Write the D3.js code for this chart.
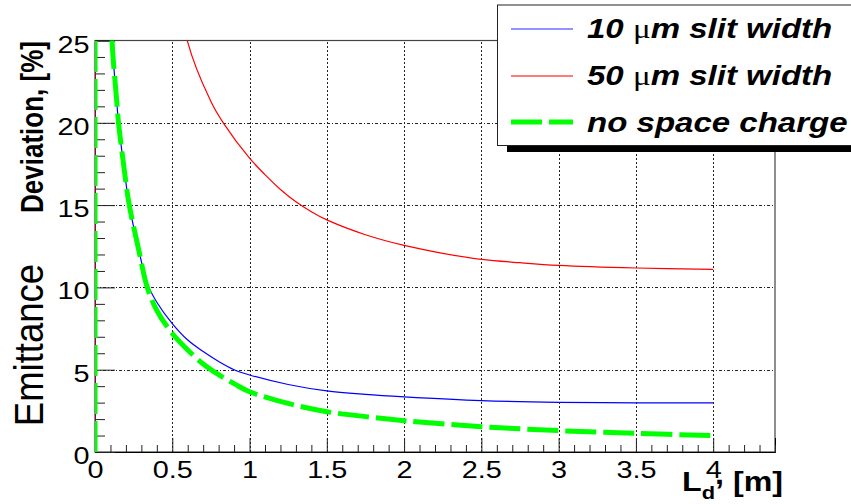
<!DOCTYPE html>
<html>
<head>
<meta charset="utf-8">
<script src="https://cdn.jsdelivr.net/npm/d3@7"></script>
<style>
  html, body { margin: 0; padding: 0; background: #fff; }
  svg { display: block; }
  text { font-family: "Liberation Sans", Arial, sans-serif; }
</style>
</head>
<body>
<svg id="chart" width="851" height="504"></svg>
<script>
// Drift length L_d [m] and emittance deviation [%]
const driftSmall = [0, 0.005, 0.05, 0.08, 0.11, 0.14, 0.15, 0.19, 0.22, 0.28, 0.34, 0.4, 0.5, 0.6, 0.7, 0.8, 0.9, 1, 1.25, 1.5, 1.75, 2, 2.5, 3, 3.5, 4];
const slit10 = [0, 600, 58, 35, 25, 21.4, 20.2, 17.1, 15.1, 12.4, 10.2, 9.1, 7.8, 6.8, 6.1, 5.5, 5.0, 4.68, 4.1, 3.71, 3.5, 3.35, 3.12, 3.02, 2.99, 2.98];
const noSpaceCharge = [0, 600, 58, 35, 25, 21.4, 20.2, 17.1, 15.1, 12.4, 9.95, 8.6, 7.2, 6.2, 5.35, 4.7, 4.15, 3.66, 2.95, 2.45, 2.15, 1.9, 1.54, 1.3, 1.13, 1.0];

const driftLarge = [0, 0.005, 0.2, 0.4, 0.6, 0.75, 0.83, 1, 1.1, 1.2, 1.3, 1.4, 1.5, 1.75, 2, 2.25, 2.5, 2.75, 3, 3.5, 4];
const slit50 = [0, 3000, 75, 37, 24.9, 21.3, 20, 17.85, 16.85, 15.95, 15.2, 14.6, 14.1, 13.2, 12.55, 12.07, 11.7, 11.5, 11.34, 11.18, 11.1];

const xMajorTicks = [0, 0.5, 1, 1.5, 2, 2.5, 3, 3.5, 4];
const yMajorTicks = [0, 5, 10, 15, 20, 25];
const legendLabels = ["10 ", "50 ", "no space charge"];

const svg = d3.select("#chart");
const plotL = 95, plotR = 775, plotT = 40.5, plotB = 452;
const SX = 1.2; // horizontal text stretch

const x = d3.scaleLinear().domain([0, 4.4]).range([plotL, plotR]);
const y = d3.scaleLinear().domain([0, 25]).range([plotB, plotT]);

svg.append("defs").append("clipPath").attr("id", "plotClip")
  .append("rect").attr("x", plotL).attr("y", plotT).attr("width", plotR - plotL).attr("height", plotB - plotT);

// Grid
const grid = svg.append("g");
grid.selectAll("line.v").data(xMajorTicks.filter(d => d > 0)).join("line")
  .attr("x1", d => Math.round(x(d)) + 0.5).attr("x2", d => Math.round(x(d)) + 0.5)
  .attr("y1", plotB).attr("y2", plotT)
  .attr("stroke", "#222").attr("stroke-width", 1).attr("stroke-dasharray", "2,2");
grid.selectAll("line.h").data(yMajorTicks.filter(d => d > 0 && d < 25)).join("line")
  .attr("x1", plotL).attr("x2", plotR)
  .attr("y1", d => Math.round(y(d)) + 0.5).attr("y2", d => Math.round(y(d)) + 0.5)
  .attr("stroke", "#222").attr("stroke-width", 1).attr("stroke-dasharray", "3,2,1,2");

// Frame
svg.append("rect").attr("x", plotL).attr("y", plotT).attr("width", plotR - plotL).attr("height", plotB - plotT)
  .attr("fill", "none").attr("stroke", "#444").attr("stroke-width", 1.2);

// Axes with inward ticks
const xAxis = svg.append("g").attr("transform", `translate(0,${plotB})`)
  .call(d3.axisBottom(x).tickValues(xMajorTicks).tickSize(-14).tickPadding(9).tickFormat(d3.format("")));
const xMinor = d3.range(0, 4.41, 0.1).map(v => +v.toFixed(2)).filter(v => !xMajorTicks.includes(v));
svg.append("g").attr("transform", `translate(0,${plotB})`)
  .call(d3.axisBottom(x).tickValues(xMinor).tickSize(-7).tickFormat(""))
  .call(g => g.select(".domain").remove());

const yAxis = svg.append("g").attr("transform", `translate(${plotL},0)`)
  .call(d3.axisLeft(y).tickValues(yMajorTicks).tickSize(-20).tickPadding(4.5).tickFormat(d3.format("")));
const yMinor = d3.range(0, 25.01, 1).filter(v => !yMajorTicks.includes(v));
svg.append("g").attr("transform", `translate(${plotL},0)`)
  .call(d3.axisLeft(y).tickValues(yMinor).tickSize(-10).tickFormat(""))
  .call(g => g.select(".domain").remove());

[xAxis, yAxis].forEach(g => {
  g.select(".domain").attr("stroke", "#000");
  g.selectAll("text").attr("font-size", 24).attr("font-family", "Liberation Sans, Arial, sans-serif")
    .attr("fill", "#000").attr("transform", `scale(${SX},1)`);
});
yAxis.selectAll("text").attr("dy", "0.48em");
svg.selectAll("g.tick line").attr("stroke", "#222");

// Curves: straight rise at the origin, smooth spline for the rest
const riseLine = d3.line().x(d => x(d[0])).y(d => y(d[1]));
const smoothLine = d3.line().x(d => x(d[0])).y(d => y(d[1])).curve(d3.curveCatmullRom.alpha(0.5));
const curves = svg.append("g").attr("clip-path", "url(#plotClip)");

function drawSeries(xs, ys, stroke, width, dash) {
  const pts = d3.zip(xs, ys);
  [riseLine(pts.slice(0, 2)), smoothLine(pts.slice(1))].forEach(d => {
    curves.append("path").attr("d", d)
      .attr("fill", "none").attr("stroke", stroke).attr("stroke-width", width)
      .attr("stroke-dasharray", dash);
  });
}
drawSeries(driftSmall, slit10, "#0000ff", 1.2, null);
drawSeries(driftLarge, slit50, "#ff0000", 1.2, null);
drawSeries(driftSmall, noSpaceCharge, "#00ff00", 5, "31,7");

// Axis titles
svg.append("text").attr("transform", `translate(43,127) scale(${SX},1) rotate(-90)`)
  .attr("text-anchor", "middle").attr("font-size", 26).attr("font-weight", "bold").text("Deviation, [%]");
svg.append("text").attr("transform", `translate(43,345) scale(1.1,1) rotate(-90)`)
  .attr("text-anchor", "middle").attr("font-size", 36.5).text("Emittance");

const xt = svg.append("text").attr("transform", `translate(682,491) scale(1.15,1)`)
  .attr("font-size", 28).attr("font-weight", "bold");
xt.append("tspan").text("L");
xt.append("tspan").attr("font-size", 19).attr("dy", 8).text("d");
xt.append("tspan").attr("dy", -15).text(",");
xt.append("tspan").attr("dy", 7).text(" [m]");

// Legend
const lg = svg.append("g");
lg.append("rect").attr("x", 507).attr("y", 11).attr("width", 360).attr("height", 141).attr("fill", "#000");
lg.append("rect").attr("x", 497.5).attr("y", 5).attr("width", 360).attr("height", 140.5)
  .attr("fill", "#fff").attr("stroke", "#222").attr("stroke-width", 1);

const rows = [
  { stroke: "#6f6fff", width: 1.5, dash: null, label: legendLabels[0], mu: true, ly: 29, ty: 38 },
  { stroke: "#ff5050", width: 1.5, dash: null, label: legendLabels[1], mu: true, ly: 76, ty: 85 },
  { stroke: "#00ff00", width: 5, dash: "31,7", label: legendLabels[2], mu: false, ly: 122, ty: 132 }
];
rows.forEach(r => {
  lg.append("line").attr("x1", 511).attr("x2", 573).attr("y1", r.ly).attr("y2", r.ly)
    .attr("stroke", r.stroke).attr("stroke-width", r.width).attr("stroke-dasharray", r.dash);
  const t = lg.append("text").attr("transform", `translate(587,${r.ty}) scale(1.18,1)`)
    .attr("font-size", 28).attr("font-weight", "bold").attr("font-style", "italic");
  t.append("tspan").text(r.label);
  if (r.mu) {
    t.append("tspan").attr("font-family", "Liberation Serif, serif").attr("font-weight", "normal")
      .attr("font-style", "normal").text("\u03bc");
    t.append("tspan").text("m slit width");
  }
});
</script>
</body>
</html>
